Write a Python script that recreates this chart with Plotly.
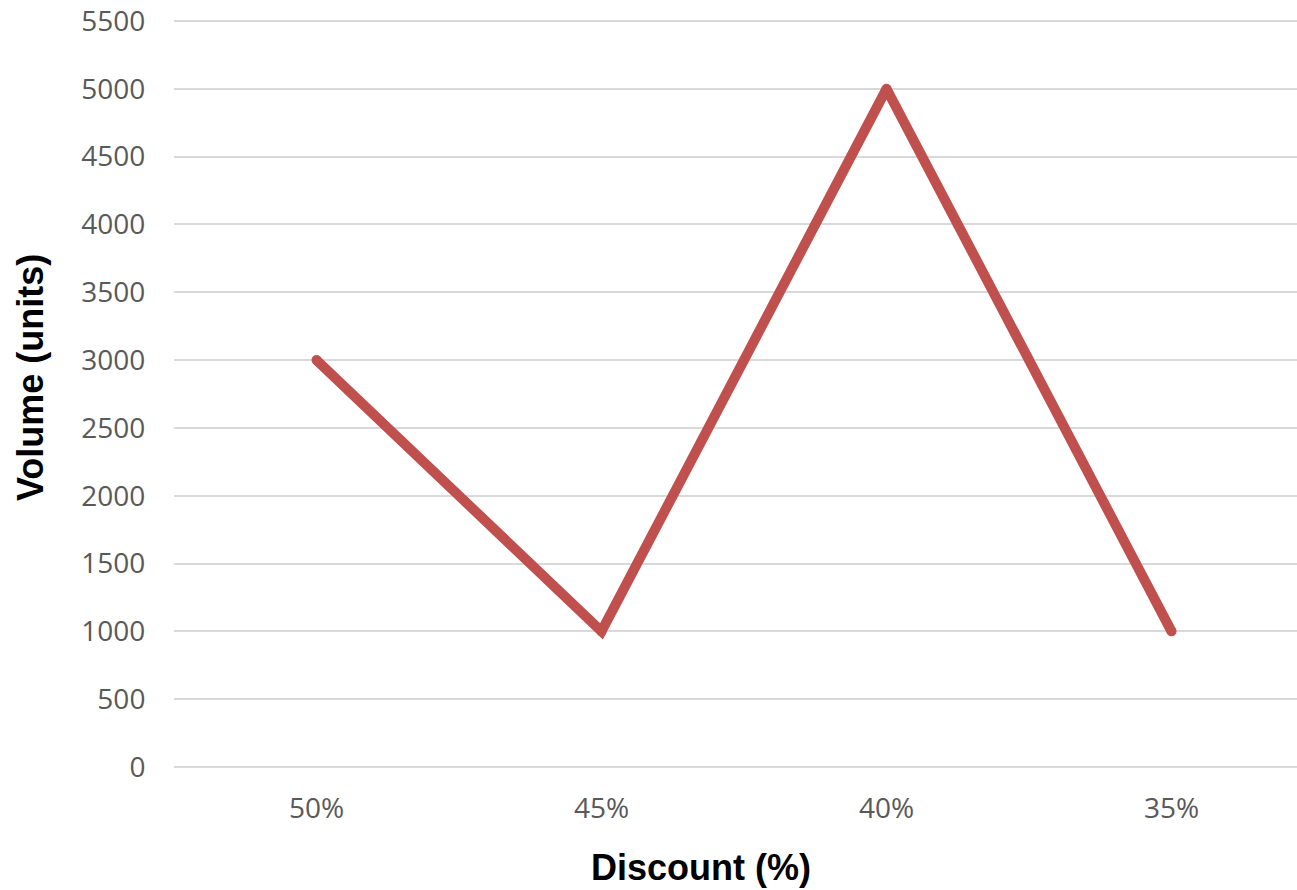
import plotly.graph_objects as go

categories = ["50%", "45%", "40%", "35%"]
volume = [3000, 1000, 5000, 1000]
y_ticks = list(range(0, 5501, 500))

LINE_COLOR = "#C0504D"
W, H = 1297, 890
L, R, T, B = 174, 0, 19, 121
pw = W - L - R
ph = H - T - B
# pixel position of 0 and 5500 gridlines in the reference
Y0_PX, YTOP_PX = 767, 21
units_per_px = 5500 / (Y0_PX - YTOP_PX)
y_lo = -(H - B - Y0_PX) * units_per_px
y_hi = 5500 + (YTOP_PX - T) * units_per_px

fig = go.Figure()
fig.add_trace(go.Scatter(
    x=list(range(len(categories))), y=volume,
    mode="lines+markers",
    line=dict(color=LINE_COLOR, width=10),
    marker=dict(color=LINE_COLOR, size=10, line=dict(width=0)),
    hoverinfo="skip", showlegend=False,
))

fig.update_layout(
    width=W, height=H,
    margin=dict(l=L, r=R, t=T, b=B),
    plot_bgcolor="white", paper_bgcolor="white",
    font=dict(family="Open Sans", color="#595959", size=28),
    xaxis=dict(
        range=[-0.5, (W - L) / 285 - 0.5],
        tickmode="array", tickvals=list(range(len(categories))), ticktext=categories,
        showgrid=False, zeroline=False, showline=False,
        ticks="outside", ticklen=14, tickcolor="rgba(0,0,0,0)",
        tickfont=dict(family="Open Sans", size=28, color="#595959"),
    ),
    yaxis=dict(
        range=[y_lo, y_hi],
        tickmode="array", tickvals=y_ticks,
        showgrid=True, gridcolor="#D9D9D9", gridwidth=2,
        zeroline=False, showline=False,
        ticks="outside", ticklen=22, tickcolor="rgba(0,0,0,0)",
        tickfont=dict(family="Open Sans", size=28, color="#595959"),
    ),
    annotations=[
        dict(text="<b>Discount (%)</b>", xref="paper", yref="paper",
             x=(701 - L) / pw, y=(H - B - 867) / ph, xanchor="center", yanchor="middle",
             showarrow=False, font=dict(family="Liberation Sans", size=36, color="black")),
        dict(text="<b>Volume (units)</b>", xref="paper", yref="paper",
             x=(30 - L) / pw, y=(H - B - 378) / ph, xanchor="center", yanchor="middle",
             textangle=-90,
             showarrow=False, font=dict(family="Liberation Sans", size=36, color="black")),
    ],
)

fig.write_html(
    "out.html",
    config={"displayModeBar": False},
    post_script="document.body.style.margin='0';document.body.style.overflow='hidden';",
)
